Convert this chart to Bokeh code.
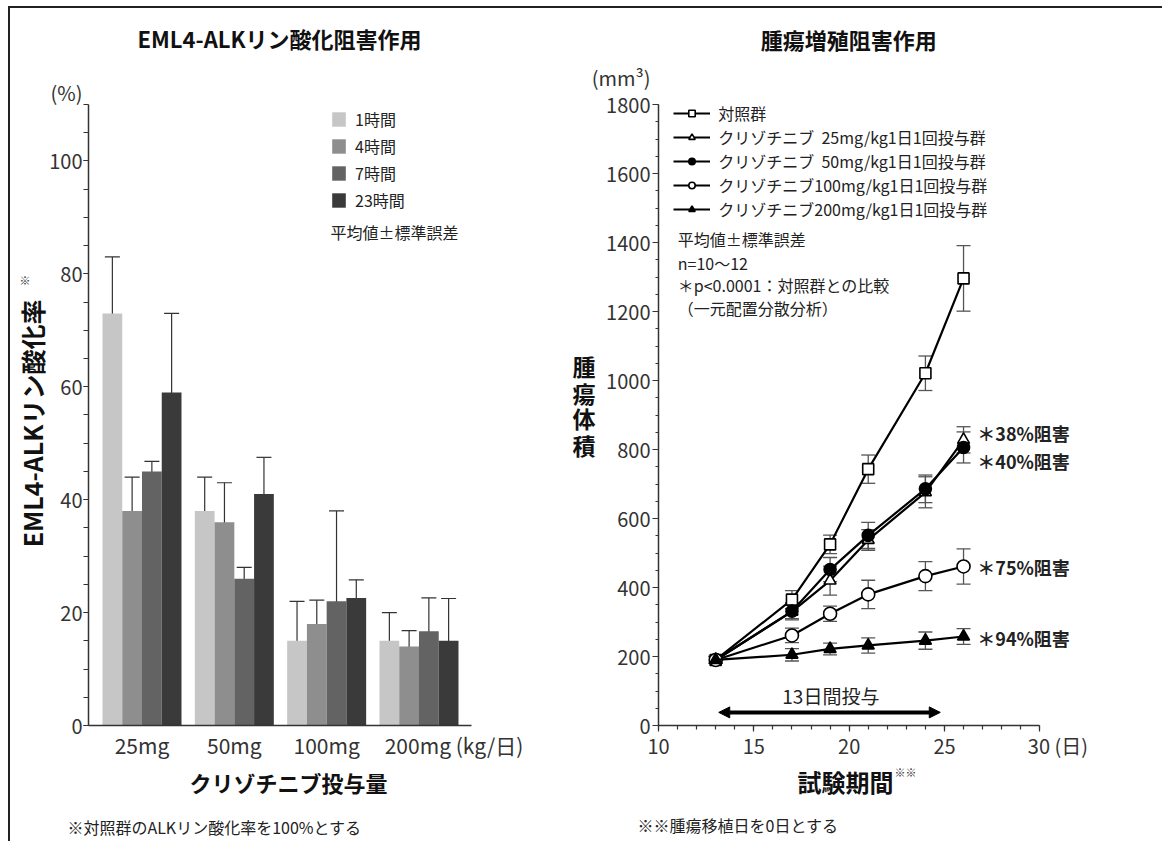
from bokeh.plotting import figure
from bokeh.layouts import row
from bokeh.models import (Range1d, FixedTicker, ColumnDataSource, Whisker, TeeHead, Label,
                          Legend, LegendItem, Arrow, NormalHead, LinearAxis)
from bokeh.embed import file_html
from bokeh.resources import INLINE

FONT = "Noto Sans CJK JP"

# ---------------- data: left chart ----------------
groups = ["25mg", "50mg", "100mg", "200mg (kg/日)"]
hours = ["1時間", "4時間", "7時間", "23時間"]
val_1h = [73, 38, 15, 15]
err_1h = [10, 6, 7, 5]
val_4h = [38, 36, 18, 14]
err_4h = [6, 7, 4.2, 2.8]
val_7h = [45, 26, 22, 16.7]
err_7h = [1.8, 2, 16, 5.9]
val_23h = [59, 41, 22.6, 15]
err_23h = [14, 6.5, 3.2, 7.5]
bar_colors = ["#c6c6c6", "#8e8e8e", "#636363", "#3a3a3a"]
left_yticks = [0, 20, 40, 60, 80, 100]

# ---------------- data: right chart ----------------
days = [13, 17, 19, 21, 24, 26]
series_names = ["対照群",
                "クリゾチニブ  25mg/kg1日1回投与群",
                "クリゾチニブ  50mg/kg1日1回投与群",
                "クリゾチニブ100mg/kg1日1回投与群",
                "クリゾチニブ200mg/kg1日1回投与群"]
ctrl = [190, 365, 525, 743, 1021, 1296]
ctrl_err = [10, 26, 27, 41, 50, 95]
c25 = [190, 330, 420, 538, 676, 828]
c25_err = [10, 20, 42, 30, 45, 38]
c50 = [190, 331, 452, 551, 686, 806]
c50_err = [10, 25, 35, 38, 40, 45]
c100 = [190, 261, 324, 380, 433, 461]
c100_err = [10, 21, 22, 41, 42, 51]
c200 = [190, 205, 222, 232, 246, 258]
c200_err = [10, 18, 17, 22, 25, 23]
inhibition = ["＊38%阻害", "＊40%阻害", "＊75%阻害", "＊94%阻害"]
right_yticks = list(range(0, 1801, 200))
right_xticks = [10, 15, 20, 25, 30]
right_xlabels = ["10", "15", "20", "25", "30 (日)"]


def base_fig(w, h, xr, yr, **kw):
    p = figure(width=w, height=h, output_backend="svg", toolbar_location=None,
               x_range=xr, y_range=yr, x_axis_type=None, y_axis_type=None, **kw)
    p.outline_line_color = None
    p.background_fill_alpha = 0
    p.border_fill_alpha = 0
    return p


def axis(ticks, minor=None, overrides=None, bounds="auto", line=False, tick_out=0, minor_out=0,
         size="1px", standoff=0, bold=False, color="#333333", show_labels=True, orientation=None):
    a = LinearAxis(ticker=FixedTicker(ticks=ticks, minor_ticks=minor or []), bounds=bounds)
    if overrides:
        a.major_label_overrides = overrides
    a.axis_line_color = "#333333" if line else None
    a.axis_line_width = 1.5
    a.major_tick_line_color = "#333333" if tick_out else None
    a.minor_tick_line_color = "#333333" if minor_out else None
    a.major_tick_line_width = 1.2
    a.minor_tick_line_width = 1.2
    a.major_tick_out = tick_out
    a.major_tick_in = 0
    a.minor_tick_out = minor_out
    a.minor_tick_in = 0
    a.major_label_text_font = FONT
    a.major_label_text_font_size = size
    a.major_label_text_font_style = "bold" if bold else "normal"
    a.major_label_text_color = color if show_labels else None
    a.major_label_standoff = standoff
    if orientation is not None:
        a.major_label_orientation = orientation
    return a


def lab(p, x, y, text, size, bold=False, align="left", baseline="middle", color="#222222"):
    p.add_layout(Label(x=x, y=y, text=text, text_font=FONT, text_font_size=size,
                       text_font_style="bold" if bold else "normal", text_align=align,
                       text_baseline=baseline, text_color=color))


H = 841

# =============== LEFT CHART (x 0..560) ===============
X0 = -0.5794
PX_X1 = 92.33
PX_Y1 = 5.6455
p1 = base_fig(560, H, Range1d(X0, X0 + 472 / PX_X1), Range1d(0, 725 / PX_Y1),
              min_border_left=88, min_border_right=0, min_border_top=0, min_border_bottom=116)

bw = 0.2139
offsets = [-1.5 * bw, -0.5 * bw, 0.5 * bw, 1.5 * bw]
vals = [val_1h, val_4h, val_7h, val_23h]
errs = [err_1h, err_4h, err_7h, err_23h]
bar_renderers = []
for k in range(4):
    xs = [i + offsets[k] for i in range(len(groups))]
    src = ColumnDataSource(dict(x=xs, top=vals[k],
                                upper=[v + e for v, e in zip(vals[k], errs[k])],
                                lower=[v - e for v, e in zip(vals[k], errs[k])]))
    r = p1.vbar(x="x", top="top", width=bw, bottom=0, source=src,
                fill_color=bar_colors[k], line_color=None)
    bar_renderers.append(r)
    p1.add_layout(Whisker(source=src, base="x", upper="upper", lower="lower", dimension="height",
                          line_color="#333333", line_width=1.2,
                          upper_head=TeeHead(size=15, line_color="#333333", line_width=1.2),
                          lower_head=TeeHead(size=15, line_color="#333333", line_width=1.2)))

# y axis: line + ticks (nearest the frame)
p1.add_layout(axis(left_yticks, minor=list(range(0, 111, 5)), bounds=(0, 110), line=True,
                   tick_out=5, minor_out=5, show_labels=False), "left")
# y axis: tick labels
p1.add_layout(axis(left_yticks + [112.2], overrides={112.2: "(%)"}, size="20px", standoff=1), "left")
# y axis title (rotated) and its superscript mark
p1.add_layout(axis([53.5], overrides={53.5: "EML4-ALKリン酸化率"}, size="25px", bold=True,
                   color="#111111", standoff=-4, orientation="vertical"), "left")
p1.add_layout(axis([79.0], overrides={79.0: "※"}, size="11px", standoff=-19), "left")
# x axis: line + group labels
x_tick_pos = [0, 1, 2, 3.38]
p1.add_layout(axis(x_tick_pos, overrides={t: g for t, g in zip(x_tick_pos, groups)},
                   bounds=(X0, 3.569), line=True, size="21px", standoff=4), "below")
# x title and footnote
p1.add_layout(axis([1.587], overrides={1.587: "クリゾチニブ投与量"}, size="22px", bold=True,
                   color="#111111", standoff=3), "below")
p1.add_layout(axis([0.7853], overrides={0.7853: "※対照群のALKリン酸化率を100%とする"}, size="16px",
                   color="#222222", standoff=14), "below")

leg1 = Legend(items=[LegendItem(label=h, renderers=[r]) for h, r in zip(hours, bar_renderers)],
              location=(242, 513), glyph_width=17, glyph_height=18, label_height=18,
              spacing=3, padding=0, margin=0, label_standoff=8,
              border_line_color=None, background_fill_alpha=0,
              label_text_font=FONT, label_text_font_size="16px", label_text_color="#222222")
p1.add_layout(leg1)
lab(p1, 2.0417, 87.33, "平均値±標準誤差", "16px")
lab(p1, 1.49, 121.69, "EML4-ALKリン酸化阻害作用", "22px", bold=True, align="center", color="#111111")

# =============== RIGHT CHART (x 560..1162) ===============
PX_X2 = 19.065
PX_Y2 = 0.345
p2 = base_fig(602, H, Range1d(10, 10 + 504 / PX_X2), Range1d(0, 725 / PX_Y2),
              min_border_left=98, min_border_right=0, min_border_top=0, min_border_bottom=116)

all_vals = [ctrl, c25, c50, c100, c200]
all_errs = [ctrl_err, c25_err, c50_err, c100_err, c200_err]
markers = ["square", "triangle", "circle", "circle", "triangle"]
fills = ["white", "white", "black", "white", "black"]
msizes = [11, 12, 12, 13, 12]

for v, e in zip(all_vals, all_errs):
    src = ColumnDataSource(dict(x=days, upper=[a + b for a, b in zip(v, e)],
                                lower=[a - b for a, b in zip(v, e)]))
    p2.add_layout(Whisker(source=src, base="x", upper="upper", lower="lower", dimension="height",
                          line_color="#555555", line_width=1.3, level="underlay",
                          upper_head=TeeHead(size=14, line_color="#555555", line_width=1.3),
                          lower_head=TeeHead(size=14, line_color="#555555", line_width=1.3)))

items = []
for name, v, m, f, s in zip(series_names, all_vals, markers, fills, msizes):
    src = ColumnDataSource(dict(x=days, y=v))
    ln = p2.line("x", "y", source=src, line_color="black", line_width=2.2)
    sc = p2.scatter("x", "y", source=src, marker=m, size=s, fill_color=f,
                    line_color="black", line_width=1.6)
    items.append(LegendItem(label=name, renderers=[ln, sc]))

leg2 = Legend(items=items, location=(15.3, 504), glyph_width=37, glyph_height=16, label_height=16,
              spacing=-1, padding=0, margin=0, label_standoff=8,
              border_line_color=None, background_fill_alpha=0,
              label_text_font=FONT, label_text_font_size="16px", label_text_color="#222222")
p2.add_layout(leg2)

# y axes
p2.add_layout(axis(right_yticks, minor=list(range(0, 1801, 50)), bounds=(0, 1800), line=True,
                   tick_out=6, minor_out=3, show_labels=False), "left")
p2.add_layout(axis(right_yticks + [1878], overrides={1878: "(mm³)"}, size="20px", standoff=2), "left")
ylab_pos = [1043, 965, 890, 814]
p2.add_layout(axis(ylab_pos, overrides={t: c for t, c in zip(ylab_pos, "腫瘍体積")},
                   size="23px", bold=True, color="#111111", standoff=-7), "left")
# x axes
p2.add_layout(axis(right_xticks, minor=list(range(10, 31)), bounds=(10, 30), line=True,
                   tick_out=6, minor_out=4, show_labels=False), "below")
lab_x = right_xticks[:-1] + [30.95]
p2.add_layout(axis(lab_x, overrides={t: s for t, s in zip(lab_x, right_xlabels)},
                   bounds=(10, 31), size="20px", standoff=-1), "below")
p2.add_layout(axis([19.81], overrides={19.81: "試験期間"}, size="24px", bold=True,
                   color="#111111", standoff=1), "below")
p2.add_layout(axis([14.17], overrides={14.17: "※※腫瘍移植日を0日とする"}, size="16px",
                   color="#222222", standoff=11), "below")
p2.add_layout(axis([22.96], overrides={22.96: "※※"}, size="11px", color="#333333",
                   standoff=-76), "below")

ann_y = [849, 768, 458, 255]
for t, yv in zip(inhibition, ann_y):
    lab(p2, 26.72, yv, t, "18px", bold=True, color="#222222")

p2.add_layout(Arrow(x_start=13.16, y_start=38, x_end=24.78, y_end=38,
                    start=NormalHead(size=11, fill_color="black", line_color="black"),
                    end=NormalHead(size=11, fill_color="black", line_color="black"),
                    line_color="black", line_width=4))
lab(p2, 19.04, 87, "13日間投与", "19px", align="center", color="#222222")

lab(p2, 11.01, 1408.7, "平均値±標準誤差", "16px")
lab(p2, 11.01, 1342, "n=10～12", "16px")
lab(p2, 11.01, 1275.4, "＊p<0.0001：対照群との比較", "16px")
lab(p2, 11.01, 1208.7, "（一元配置分散分析）", "16px")
lab(p2, 19.98, 1991.3, "腫瘍増殖阻害作用", "22px", bold=True, align="center", color="#111111")

# outer frame (top and left rules) drawn as the page background
frame_css = {
    "background-color": "white",
    "background-image": "linear-gradient(#222222, #222222), linear-gradient(#222222, #222222)",
    "background-size": "calc(100% - 8px) 2px, 2px calc(100% - 6px)",
    "background-position": "8px 6px, 8px 6px",
    "background-repeat": "no-repeat",
}
layout = row(p1, p2, spacing=0, styles=frame_css)
open("out.html", "w").write(file_html(layout, INLINE))
